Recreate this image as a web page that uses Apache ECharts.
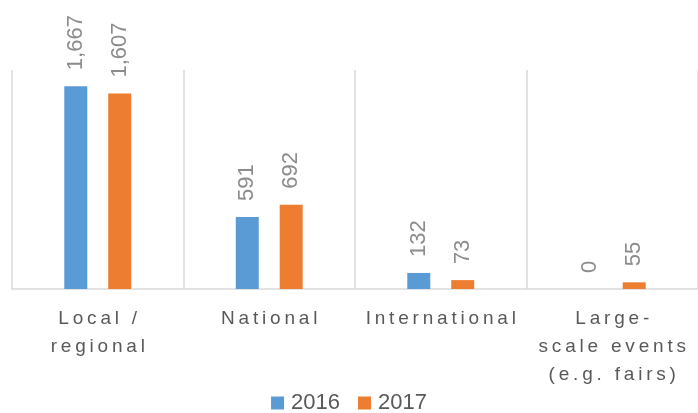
<!DOCTYPE html>
<html>
<head>
<meta charset="utf-8">
<script src="https://cdn.jsdelivr.net/npm/echarts@6/dist/echarts.min.js"></script>
<style>
  html, body { margin: 0; padding: 0; background: #fff; }
  #chart { width: 698px; height: 413px; }
</style>
</head>
<body>
<div id="chart"></div>
<script>
// data
var categories = ['Local /\nregional', 'National', 'International', 'Large-\nscale events\n(e.g. fairs)'];
var seriesNames = ['2016', '2017'];
var values2016 = [1667, 591, 132, 0];
var values2017 = [1607, 692, 73, 55];

var FONT = '"Liberation Sans", Arial, sans-serif';

// spaced letters like the original (thin space between chars)
function spaced(s) {
    return s.split('\n').map(function (line) {
        return line.split('').join('\u2009');
    }).join('\n');
}

var chart = echarts.init(document.getElementById('chart'));

var valueLabel = {
    show: true,
    position: 'top',
    rotate: 90,
    align: 'left',
    verticalAlign: 'middle',
    distance: 16,
    fontFamily: FONT,
    fontSize: 22,
    color: '#8c8c8c',
    formatter: function (p) {
        return p.value.toLocaleString('en-US');
    }
};

var option = {
    animation: false,
    backgroundColor: '#ffffff',
    grid: {left: 12, right: -2, top: 70, bottom: 124},
    legend: {
        bottom: -6,
        left: 'center',
        itemWidth: 13,
        itemHeight: 13,
        itemGap: 18,
        icon: 'rect',
        textStyle: {fontFamily: FONT, fontSize: 22, color: '#595959', padding: [0, 0, 0, 2]},
        data: seriesNames
    },
    xAxis: {
        type: 'category',
        data: categories,
        axisLine: {lineStyle: {color: '#d9d9d9', width: 1.5}},
        axisTick: {show: false},
        splitLine: {show: true, lineStyle: {color: '#d9d9d9', width: 1.5}},
        axisLabel: {
            margin: 16,
            interval: 0,
            fontFamily: FONT,
            fontSize: 19,
            lineHeight: 28,
            color: '#595959',
            formatter: spaced
        }
    },
    yAxis: {
        type: 'value',
        min: 0,
        max: 1800,
        show: false,
        splitLine: {show: false}
    },
    series: [
        {
            name: seriesNames[0],
            type: 'bar',
            data: values2016,
            barWidth: 23,
            barGap: '91%',
            itemStyle: {color: '#5b9bd5'},
            label: valueLabel
        },
        {
            name: seriesNames[1],
            type: 'bar',
            data: values2017,
            barWidth: 23,
            barGap: '91%',
            itemStyle: {color: '#ed7d31'},
            label: valueLabel
        }
    ]
};

chart.setOption(option);
</script>
</body>
</html>
